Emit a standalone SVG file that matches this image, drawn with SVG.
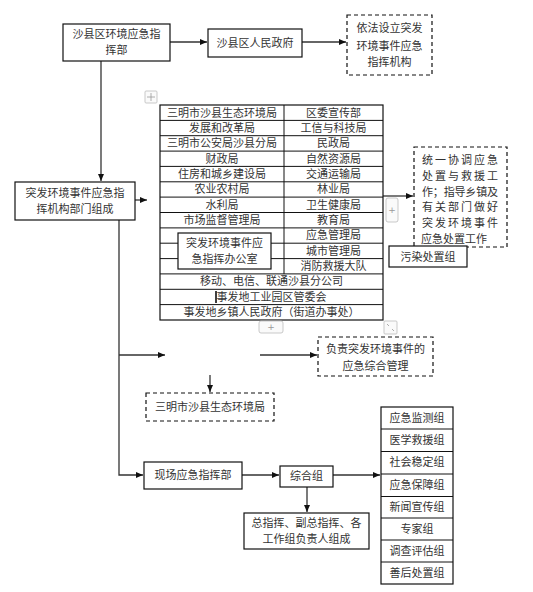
<svg xmlns="http://www.w3.org/2000/svg" width="533" height="592" viewBox="0 0 533 592">
<defs>
<marker id="ah" markerWidth="7" markerHeight="6" refX="7" refY="3" orient="auto" markerUnits="userSpaceOnUse">
<path d="M0,0 L7,3 L0,6 Z" fill="#111"/>
</marker>
<style>
text{font-family:"Liberation Serif","Noto Sans CJK SC",serif;font-size:11px;fill:#333;text-anchor:middle}
.box{fill:#fff;stroke:#111;stroke-width:1.2}
.dash{fill:#fff;stroke:#111;stroke-width:1.2;stroke-dasharray:4,3}
.ln{fill:none;stroke:#333;stroke-width:1.3}
.tl{stroke:#111;stroke-width:1}
.ui{fill:#fafafa;stroke:#bbb;stroke-width:0.8}
.uit{font-family:"DejaVu Sans",sans-serif;font-size:9px;fill:#999}
</style>
</defs>
<rect width="533" height="592" fill="#fff"/>

<g id="connectors">
<path class="ln" d="M170,42 H207" marker-end="url(#ah)"/>
<path class="ln" d="M302,42 H346" marker-end="url(#ah)"/>
<path class="ln" d="M101,61 V181" marker-end="url(#ah)"/>
<path class="ln" d="M135,200 H147" marker-end="url(#ah)"/>
<path class="ln" d="M383,196 H413" marker-end="url(#ah)"/>
<path class="ln" d="M119,220 V475 H143" marker-end="url(#ah)"/>
<path class="ln" d="M119,355 H165" marker-end="url(#ah)"/>
<path class="ln" d="M260,355 H317" marker-end="url(#ah)"/>
<path class="ln" d="M210,375 V392" marker-end="url(#ah)"/>
<path class="ln" d="M242,475 H279" marker-end="url(#ah)"/>
<path class="ln" d="M333,475 H380" marker-end="url(#ah)"/>
<path class="ln" d="M307,487 V512" marker-end="url(#ah)"/>
</g>

<g id="n-zhihuibu">
<rect class="box" x="63" y="24" width="107" height="37"/>
<text x="116.5" y="38">沙县区环境应急指</text>
<text x="116.5" y="54">挥部</text>
</g>

<g id="n-zhengfu">
<rect class="box" x="208" y="29" width="94" height="28"/>
<text x="255" y="47">沙县区人民政府</text>
</g>

<g id="n-jigou">
<rect class="dash" x="347" y="15" width="85" height="60"/>
<text x="389.5" y="32">依法设立突发</text>
<text x="389.5" y="50">环境事件应急</text>
<text x="389.5" y="66">指挥机构</text>
</g>

<g id="n-bumen">
<rect class="box" x="15" y="182" width="120" height="38"/>
<text x="75" y="197">突发环境事件应急指</text>
<text x="75" y="213">挥机构部门组成</text>
</g>

<g id="n-table">
<rect x="160" y="105" width="223" height="215" fill="#fff" stroke="#111" stroke-width="1.2"/>
<line class="tl" x1="284" y1="105" x2="284" y2="274"/>
<line class="tl" x1="160" y1="120.4" x2="383" y2="120.4"/>
<line class="tl" x1="160" y1="135.7" x2="383" y2="135.7"/>
<line class="tl" x1="160" y1="151.1" x2="383" y2="151.1"/>
<line class="tl" x1="160" y1="166.4" x2="383" y2="166.4"/>
<line class="tl" x1="160" y1="181.8" x2="383" y2="181.8"/>
<line class="tl" x1="160" y1="197.1" x2="383" y2="197.1"/>
<line class="tl" x1="160" y1="212.5" x2="383" y2="212.5"/>
<line class="tl" x1="160" y1="227.9" x2="383" y2="227.9"/>
<line class="tl" x1="160" y1="243.2" x2="383" y2="243.2"/>
<line class="tl" x1="160" y1="258.6" x2="383" y2="258.6"/>
<line class="tl" x1="160" y1="273.9" x2="383" y2="273.9"/>
<line class="tl" x1="160" y1="289.3" x2="383" y2="289.3"/>
<line class="tl" x1="160" y1="304.6" x2="383" y2="304.6"/>
<text x="222" y="116.5">三明市沙县生态环境局</text>
<text x="333.5" y="116.5">区委宣传部</text>
<text x="222" y="131.8">发展和改革局</text>
<text x="333.5" y="131.8">工信与科技局</text>
<text x="222" y="147.2">三明市公安局沙县分局</text>
<text x="333.5" y="147.2">民政局</text>
<text x="222" y="162.5">财政局</text>
<text x="333.5" y="162.5">自然资源局</text>
<text x="222" y="177.9">住房和城乡建设局</text>
<text x="333.5" y="177.9">交通运输局</text>
<text x="222" y="193.2">农业农村局</text>
<text x="333.5" y="193.2">林业局</text>
<text x="222" y="208.6">水利局</text>
<text x="333.5" y="208.6">卫生健康局</text>
<text x="222" y="224">市场监督管理局</text>
<text x="333.5" y="224">教育局</text>
<text x="333.5" y="239.3">应急管理局</text>
<text x="333.5" y="254.7">城市管理局</text>
<text x="333.5" y="270">消防救援大队</text>
<text x="271.5" y="285.4">移动、电信、联通沙县分公司</text>
<text x="271.5" y="300.7">事发地工业园区管委会</text>
<text x="271.5" y="316.1">事发地乡镇人民政府（街道办事处）</text>
<line x1="216" y1="291" x2="216" y2="303" stroke="#000" stroke-width="1.5"/>
</g>

<g id="n-bangongshi">
<rect class="box" x="178" y="233" width="93" height="36"/>
<text x="224.5" y="247">突发环境事件应</text>
<text x="224.5" y="263">急指挥办公室</text>
</g>

<g id="n-tongyi">
<rect class="dash" x="414" y="147" width="93" height="100"/>
<text x="460" y="164" textLength="76" lengthAdjust="spacing">统一协调应急</text>
<text x="460" y="180" textLength="76" lengthAdjust="spacing">处置与救援工</text>
<text x="460" y="196" textLength="76" lengthAdjust="spacing">作；指导乡镇及</text>
<text x="460" y="211" textLength="76" lengthAdjust="spacing">有关部门做好</text>
<text x="460" y="227" textLength="76" lengthAdjust="spacing">突发环境事件</text>
<text x="454" y="243">应急处置工作</text>
</g>

<g id="n-wuran">
<rect class="box" x="389" y="246" width="78" height="21"/>
<text x="428" y="260.5">污染处置组</text>
</g>

<g id="n-fuze">
<rect class="dash" x="318" y="337" width="115" height="39"/>
<text x="375.5" y="353">负责突发环境事件的</text>
<text x="375.5" y="370">应急综合管理</text>
</g>

<g id="n-shengtai">
<rect class="dash" x="146" y="393" width="128" height="28"/>
<text x="210" y="411">三明市沙县生态环境局</text>
</g>

<g id="n-xianchang">
<rect class="box" x="144" y="462" width="98" height="27"/>
<text x="193" y="479">现场应急指挥部</text>
</g>

<g id="n-zonghe">
<rect class="box" x="280" y="466" width="53" height="21"/>
<text x="306.5" y="480">综合组</text>
</g>

<g id="n-zongzhihui">
<rect class="box" x="244" y="513" width="125" height="36"/>
<text x="306.5" y="527">总指挥、副总指挥、各</text>
<text x="306.5" y="543">工作组负责人组成</text>
</g>

<g id="n-groups">
<rect class="box" x="381" y="407" width="72" height="177"/>
<line class="tl" x1="381" y1="429" x2="453" y2="429"/>
<line class="tl" x1="381" y1="451.5" x2="453" y2="451.5"/>
<line class="tl" x1="381" y1="474" x2="453" y2="474"/>
<line class="tl" x1="381" y1="496.5" x2="453" y2="496.5"/>
<line class="tl" x1="381" y1="518" x2="453" y2="518"/>
<line class="tl" x1="381" y1="540" x2="453" y2="540"/>
<line class="tl" x1="381" y1="562" x2="453" y2="562"/>
<text x="417" y="422">应急监测组</text>
<text x="417" y="444">医学救援组</text>
<text x="417" y="466">社会稳定组</text>
<text x="417" y="489">应急保障组</text>
<text x="417" y="511">新闻宣传组</text>
<text x="417" y="533">专家组</text>
<text x="417" y="555">调查评估组</text>
<text x="417" y="577">善后处置组</text>
</g>

<g id="ui-artifacts">
<rect class="ui" x="145" y="91" width="12" height="12" rx="1"/>
<path d="M151,93 V101 M147,97 H155" stroke="#999" stroke-width="0.8"/>
<rect class="ui" x="386" y="198" width="12" height="24" rx="2"/>
<text class="uit" x="392" y="213">+</text>
<rect class="ui" x="259" y="321" width="24" height="12" rx="2"/>
<text class="uit" x="271" y="330">+</text>
<rect class="ui" x="384" y="321" width="13" height="13" rx="1"/>
<path d="M387,324 L389,326 M394,331 L392,329" stroke="#999" stroke-width="0.8"/>
</g>
</svg>
